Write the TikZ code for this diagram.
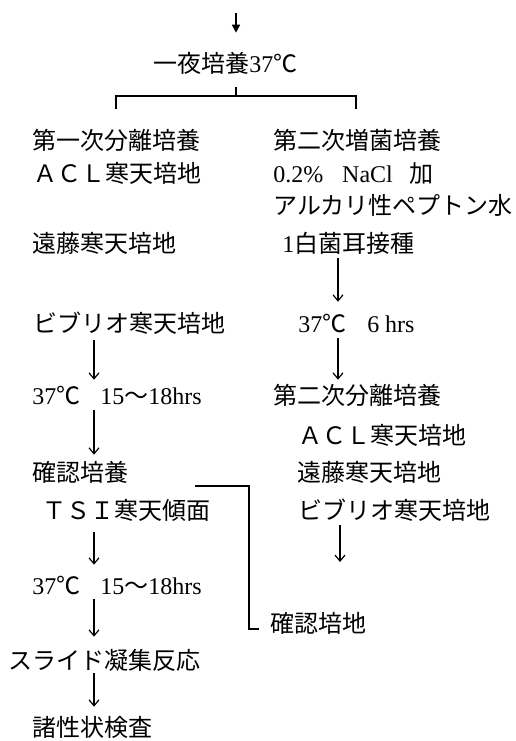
\documentclass[tikz,border=0pt]{standalone}
\usepackage{fontspec}
\setmainfont{Liberation Serif}
\newfontfamily\jp{Noto Sans CJK JP}
\usetikzlibrary{arrows.meta}
\begin{document}
\begin{tikzpicture}[x=0.75pt,y=-0.75pt,
  txt/.style={inner sep=0pt, anchor=west, text height=15.8pt, text depth=2.2pt, font=\fontsize{18}{18}\selectfont},
  arr/.style={line width=0.9pt, -{Straight Barb[length=4.5pt,width=7.5pt]}},
  toparr/.style={line width=1.2pt, -{Triangle[length=6pt,width=6pt]}},
  ln/.style={line width=0.9pt}]
\useasboundingbox (0,0) rectangle (515,741);
% top
\node[txt] (night) at (153,63) {{\jp 一夜培養}37{\jp ℃}};
% left column
\node[txt] (dai1)   at (32,140) {\jp 第一次分離培養};
\node[txt] (acl)    at (33,173) {\jp ＡＣＬ寒天培地};
\node[txt] (endo)   at (32,243) {\jp 遠藤寒天培地};
\node[txt] (vib)    at (33,323) {\jp ビブリオ寒天培地};
\node[txt] (t1)     at (32,395) {37{\jp ℃}\hspace{15pt}15{\jp 〜}18hrs};
\node[txt] (kak)    at (32,472) {\jp 確認培養};
\node[txt] (tsi)    at (42,510) {\jp ＴＳＩ寒天傾面};
\node[txt] (t2)     at (32,585) {37{\jp ℃}\hspace{15pt}15{\jp 〜}18hrs};
\node[txt] (slide)  at (8,660)  {\jp スライド凝集反応};
\node[txt] (shosei) at (32,727) {\jp 諸性状検査};
% right column
\node[txt] (zou)   at (273,140) {\jp 第二次増菌培養};
\node[txt] (nacl)  at (273,173) {0.2\%\hspace{14.25pt}NaCl\hspace{12.75pt}{\jp 加}};
\node[txt] (alk)   at (273,205) {\jp アルカリ性ペプトン水};
\node[txt] (ino)   at (282,243) {1{\jp 白菌耳接種}};
\node[txt] (t3)    at (298,323) {37{\jp ℃}\hspace{15.75pt}6 hrs};
\node[txt] (bun2)  at (273,395) {\jp 第二次分離培養};
\node[txt] (acl2)  at (298,435) {\jp ＡＣＬ寒天培地};
\node[txt] (endo2) at (297,472) {\jp 遠藤寒天培地};
\node[txt] (vib2)  at (298,510) {\jp ビブリオ寒天培地};
\node[txt, inner xsep=8.25pt] (kc) at (259,623) {\jp 確認培地};
% coordinates
\coordinate (topS) at (236,13);
\coordinate (bj) at (236,96);
\coordinate (bl) at (116,109);
\coordinate (br) at (356,109);
\coordinate (cl) at (94,0);
\coordinate (cr) at (338,0);
\coordinate (c1) at (195,486);
\coordinate (c2) at (249,486);
\coordinate (c3) at (249,629);
\coordinate (rEnd) at (340,562);
% top arrow and bracket
\draw[toparr, shorten >=13.5pt] (topS) -- (night.north -| topS);
\draw[ln, shorten <=9pt] (night.south -| bj) -- (bj);
\draw[ln] (bl) -- (bl |- bj) -- (br |- bj) -- (br);
% left arrows
\draw[arr, shorten <=3.75pt, shorten >=2.25pt] (vib.south -| cl) -- (t1.north -| cl);
\draw[arr, shorten <=2.25pt, shorten >=3.75pt] (t1.south -| cl) -- (kak.north -| cl);
\draw[arr, shorten <=7.5pt, shorten >=6pt] (tsi.south -| cl) -- (t2.north -| cl);
\draw[arr, shorten <=1.5pt, shorten >=8.25pt] (t2.south -| cl) -- (slide.north -| cl);
\draw[arr, shorten <=0.75pt, shorten >=6pt] (slide.south -| cl) -- (shosei.north -| cl);
% right arrows
\draw[arr, shorten <=2.25pt, shorten >=6.75pt] (ino.south -| cr) -- (t3.north -| cr);
\draw[arr, shorten <=2.25pt, shorten >=2.25pt] (t3.south -| cr) -- (bun2.north -| cr);
\draw[arr, shorten <=2.25pt] (vib2.south -| rEnd) -- (rEnd);
% connector to confirmation medium
\draw[ln] (c1) -- (c2) -- (c3) -- (kc.west |- c3);
\end{tikzpicture}
\end{document}
